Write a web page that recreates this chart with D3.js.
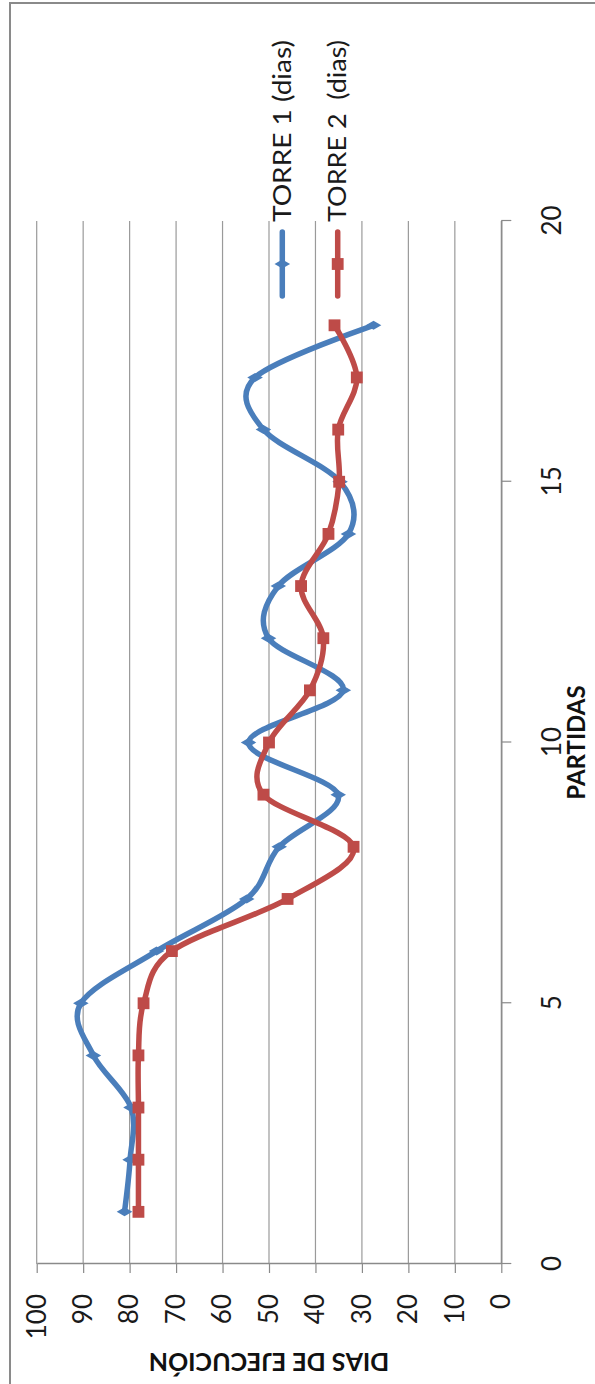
<!DOCTYPE html>
<html>
<head>
<meta charset="utf-8">
<script src="https://cdn.jsdelivr.net/npm/d3@7"></script>
<style>
  html, body { margin: 0; padding: 0; background: #fff; }
  svg { display: block; }
</style>
</head>
<body>
<svg id="chart" width="595" height="1384"></svg>
<script>
// Execution days per work item for the two towers
const partidas = [1, 2, 3, 4, 5, 6, 7, 8, 9, 10, 11, 12, 13, 14, 15, 16, 17, 18];
const torre1 = [81.1, 79.9, 79.7, 87.8, 90.5, 74.2, 54.8, 47.8, 35.1, 54.4, 34.0, 50.1, 48.0, 32.9, 34.7, 51.2, 53.0, 27.5];
const torre2 = [78.1, 78.1, 78.1, 78.1, 77.0, 70.9, 46.0, 31.8, 51.2, 50.0, 41.2, 38.3, 43.1, 37.2, 34.9, 35.1, 31.1, 35.9];
const seriesNames = ["TORRE 1 (dias)", "TORRE 2  (dias)"];
const partidaTicks = [0, 5, 10, 15, 20];
const diasTicks = [0, 10, 20, 30, 40, 50, 60, 70, 80, 90, 100];

const PAGE_W = 595, PAGE_H = 1384;
const BLUE = "#4A7EBB", RED = "#BE4B48";
const FONT = "Lato, 'Open Sans', sans-serif";

const svg = d3.select("#chart");

// outer frame
svg.append("path")
  .attr("d", `M10,${PAGE_H}V3H${PAGE_W}`)
  .attr("fill", "none")
  .attr("stroke", "#8a8a8a")
  .attr("stroke-width", 2);

// The chart is laid out in landscape and turned a quarter turn counter-clockwise.
const g = svg.append("g")
  .attr("transform", `translate(0,${PAGE_H}) rotate(-90)`);

const x = d3.scaleLinear().domain([0, 20]).range([120, 1163]);
const y = d3.scaleLinear().domain([0, 100]).range([501.3, 36.7]);

// horizontal gridlines
g.append("g")
  .selectAll("line")
  .data(diasTicks)
  .join("line")
  .attr("x1", x(0))
  .attr("x2", x(20))
  .attr("y1", d => y(d))
  .attr("y2", d => y(d))
  .attr("stroke", "#9a9a9a")
  .attr("stroke-width", 1.2);

// value axis
const yAxis = g.append("g")
  .attr("transform", `translate(${x(0)},0)`)
  .call(d3.axisLeft(y).tickValues(diasTicks).tickSize(9).tickSizeOuter(0).tickPadding(21));
yAxis.select(".domain").attr("stroke", "#8a8a8a").attr("stroke-width", 1.4);
yAxis.selectAll(".tick line").attr("stroke", "#8a8a8a").attr("stroke-width", 1.2);
yAxis.selectAll("text")
  .attr("font-family", FONT)
  .attr("font-size", 26)
  .attr("fill", "#1a1a1a");

// category axis
const xAxis = g.append("g")
  .attr("transform", `translate(0,${y(0)})`)
  .call(d3.axisBottom(x).tickValues(partidaTicks).tickSize(10).tickSizeOuter(0).tickPadding(31));
xAxis.select(".domain").attr("stroke", "#8a8a8a").attr("stroke-width", 1.4);
xAxis.selectAll(".tick line").attr("stroke", "#8a8a8a").attr("stroke-width", 1.2);
xAxis.selectAll("text")
  .attr("font-family", FONT)
  .attr("font-size", 26)
  .attr("fill", "#1a1a1a");

// axis titles
g.append("text")
  .attr("transform", `translate(31,${(y(0) + y(100)) / 2}) rotate(-90)`)
  .attr("text-anchor", "middle")
  .attr("font-family", FONT)
  .attr("font-weight", "bold")
  .attr("font-size", 25)
  .attr("fill", "#111")
  .text("DIAS DE EJECUCIÓN");

g.append("text")
  .attr("x", x(10))
  .attr("y", 585)
  .attr("text-anchor", "middle")
  .attr("font-family", FONT)
  .attr("font-weight", "bold")
  .attr("font-size", 24)
  .attr("fill", "#111")
  .text("PARTIDAS");

// smoothed series lines
const line = d3.line()
  .x((d, i) => x(partidas[i]))
  .y(d => y(d))
  .curve(d3.curveCardinal.tension(0));

const series = [
  { name: seriesNames[0], values: torre1, color: BLUE, symbol: d3.symbolDiamond, size: 70 },
  { name: seriesNames[1], values: torre2, color: RED, symbol: d3.symbolSquare, size: 140 }
];

series.forEach(s => {
  g.append("path")
    .datum(s.values)
    .attr("d", line)
    .attr("fill", "none")
    .attr("stroke", s.color)
    .attr("stroke-width", 5.5)
    .attr("stroke-linejoin", "round")
    .attr("stroke-linecap", "round");

  g.append("g")
    .selectAll("path")
    .data(s.values)
    .join("path")
    .attr("transform", (d, i) => `translate(${x(partidas[i])},${y(d)})`)
    .attr("d", d3.symbol(s.symbol, s.size))
    .attr("fill", s.color);
});

// legend
const legendY = [282.3, 337.7];
series.forEach((s, i) => {
  const lg = g.append("g").attr("transform", `translate(1088,${legendY[i]})`);
  lg.append("line")
    .attr("x1", 0).attr("x2", 64)
    .attr("stroke", s.color)
    .attr("stroke-width", 5.5)
    .attr("stroke-linecap", "round");
  lg.append("path")
    .attr("transform", "translate(32,0)")
    .attr("d", d3.symbol(s.symbol, s.size))
    .attr("fill", s.color);
  lg.append("text")
    .attr("x", 74)
    .attr("y", 0)
    .attr("dy", "0.35em")
    .attr("font-family", FONT)
    .attr("font-size", 25)
    .attr("textLength", 182)
    .attr("lengthAdjust", "spacingAndGlyphs")
    .attr("fill", "#1a1a1a")
    .style("white-space", "pre")
    .text(s.name);
});
</script>
</body>
</html>
